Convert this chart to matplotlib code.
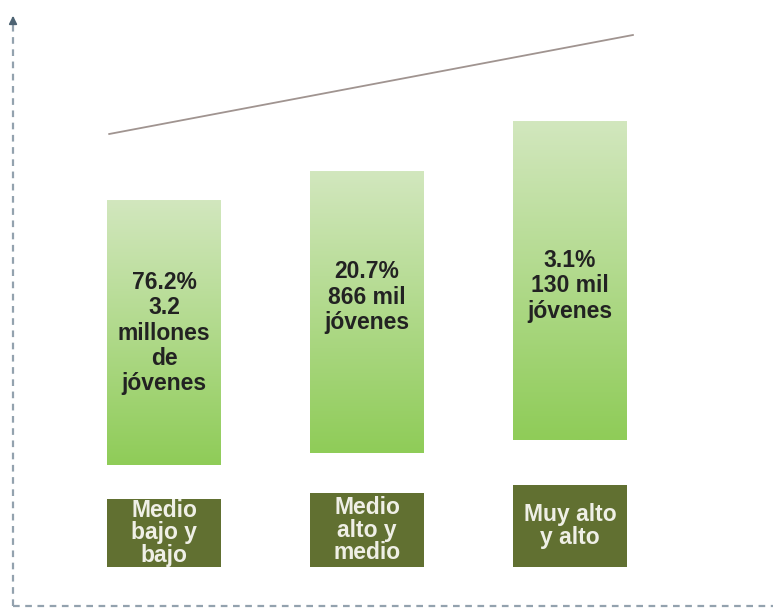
import numpy as np
import matplotlib.pyplot as plt
from matplotlib.colors import LinearSegmentedColormap
from matplotlib.patches import Rectangle

plt.rcParams['font.family'] = ['Liberation Sans', 'DejaVu Sans']

# bar positions and vertical extents (floating bars)
x_pos = [0, 1, 2]
bar_bottom = [144, 156, 169]
bar_top = [409, 438, 488]
bar_labels = ["76.2%\n3.2\nmillones\nde\njóvenes",
              "20.7%\n866 mil\njóvenes",
              "3.1%\n130 mil\njóvenes"]
label_y = [276, 312, 323]

# category boxes under each bar
box_bottom = [42, 42, 42]
box_top = [110, 116, 124]
categories = ["Medio\nbajo y\nbajo", "Medio\nalto y\nmedio", "Muy alto\ny alto"]

# trend line above the bars
trend_x = [-0.27, 2.31]
trend_y = [475, 574]

bar_w = 0.56
fig = plt.figure(figsize=(7.74, 6.09), dpi=100)
ax = fig.add_axes([0, 0, 1, 1])
ax.set_xlim(-0.808, 3.005)
ax.set_ylim(0, 609)
ax.axis('off')

cmap = LinearSegmentedColormap.from_list('g', ['#8fcc58', '#d2e7be'])
grad = np.linspace(0, 1, 256).reshape(-1, 1)

for x, b, t, lab, ly in zip(x_pos, bar_bottom, bar_top, bar_labels, label_y):
    rect = Rectangle((x - bar_w / 2, b), bar_w, t - b, facecolor='none', edgecolor='none')
    ax.add_patch(rect)
    im = ax.imshow(grad, cmap=cmap, origin='lower', aspect='auto',
                   extent=[x - bar_w / 2, x + bar_w / 2, b, t], zorder=2)
    im.set_clip_path(rect)
    ax.text(x, ly, lab, ha='center', va='center', fontsize=16.5, fontweight='bold',
            color='#222222', linespacing=1.12, zorder=3)

for x, b, t, cat in zip(x_pos, box_bottom, box_top, categories):
    ax.add_patch(Rectangle((x - bar_w / 2, b), bar_w, t - b, facecolor='#617031',
                           edgecolor='none', zorder=2))
    ax.text(x, (b + t) / 2, cat, ha='center', va='center', fontsize=16.5,
            fontweight='bold', color='#efefe6', linespacing=0.98, zorder=3)

ax.plot(trend_x, trend_y, color='#a09490', lw=1.3, zorder=2)

# dashed axes with arrowheads
ax_col = '#93a2ae'
x0 = (13 - 164) / 203
ax.plot([x0, x0], [3, 592], color=ax_col, lw=1.6, ls=(0, (3, 2.5)), zorder=1)
ax.plot([x0, 3.0], [3, 3], color=ax_col, lw=1.6, ls=(0, (3, 2.5)), zorder=1)
ax.annotate('', xy=(x0, 596), xytext=(x0, 585),
            arrowprops=dict(arrowstyle='-|>', color='#4d6373', lw=1.2, mutation_scale=12))
ax.annotate('', xy=(3.01, 3), xytext=(2.96, 3),
            arrowprops=dict(arrowstyle='-|>', color='#4d6373', lw=1.2, mutation_scale=12))

fig.savefig('out.png', dpi=100)
